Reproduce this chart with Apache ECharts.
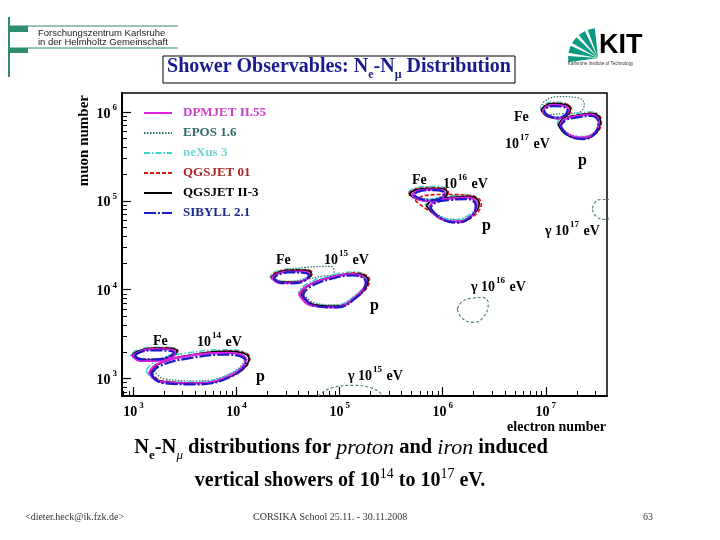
<!DOCTYPE html>
<html><head><meta charset="utf-8">
<script src="https://cdn.jsdelivr.net/npm/echarts@6/dist/echarts.min.js"></script>
<style>html,body{margin:0;padding:0;background:#fff}#c{width:720px;height:540px}</style>
</head><body><div id="c"></div>
<script>
// ---- data (log10 of electron number, log10 of muon number) ----
const modelNames = ['DPMJET II.55','EPOS 1.6','neXus 3','QGSJET 01','QGSJET II-3','SIBYLL 2.1'];
const xTickExps = [3,4,5,6,7];
const yTickExps = [3,4,5,6];
// contour groups per model: Fe14, p14, Fe15, p15, Fe16, p16, Fe17, p17
const dpmjet = [
 [[2.990,3.255],[3.070,3.200],[3.215,3.200],[3.345,3.230],[3.405,3.295],[3.325,3.330],[3.175,3.332],[3.050,3.300]],
 [[3.150,3.065],[3.250,2.965],[3.580,2.945],[3.950,3.040],[4.090,3.215],[3.910,3.290],[3.480,3.245],[3.225,3.160]],
 [[4.340,4.130],[4.430,4.075],[4.555,4.078],[4.665,4.110],[4.705,4.170],[4.635,4.205],[4.495,4.205],[4.390,4.175]],
 [[4.605,3.950],[4.720,3.822],[4.945,3.800],[5.160,3.925],[5.255,4.095],[5.130,4.175],[4.890,4.130],[4.680,4.040]],
 [[5.700,5.060],[5.780,5.010],[5.900,4.995],[5.990,5.030],[6.020,5.090],[5.960,5.125],[5.840,5.125],[5.740,5.105]],
 [[5.870,4.930],[5.975,4.800],[6.140,4.765],[6.280,4.830],[6.330,4.960],[6.250,5.035],[6.070,5.025],[5.920,4.990]],
 [[6.970,6.005],[7.030,5.950],[7.120,5.930],[7.190,5.965],[7.220,6.020],[7.170,6.070],[7.070,6.080],[7.005,6.060]],
 [[7.140,5.850],[7.215,5.750],[7.360,5.710],[7.480,5.770],[7.515,5.895],[7.440,5.970],[7.290,5.950],[7.185,5.920]]
];
const epos = [
 [[3.000,3.268],[3.075,3.220],[3.200,3.218],[3.320,3.248],[3.385,3.305],[3.310,3.335],[3.170,3.338],[3.055,3.310]],
 [[3.200,3.090],[3.300,2.995],[3.620,2.975],[3.960,3.070],[4.080,3.235],[3.900,3.300],[3.490,3.260],[3.270,3.180]],
 [[4.335,4.149],[4.471,4.093],[4.665,4.116],[4.811,4.149],[4.947,4.183],[4.917,4.262],[4.665,4.251],[4.422,4.206]],
 [[4.640,3.975],[4.750,3.855],[4.960,3.830],[5.170,3.950],[5.260,4.110],[5.140,4.180],[4.910,4.140],[4.710,4.060]],
 [[5.680,5.085],[5.770,5.035],[5.900,5.020],[6.000,5.050],[6.040,5.110],[5.975,5.150],[5.830,5.155],[5.725,5.130]],
 [[5.860,4.960],[5.960,4.840],[6.125,4.790],[6.280,4.850],[6.340,4.980],[6.255,5.055],[6.070,5.045],[5.905,5.015]],
 [[6.947,6.037],[7.024,5.970],[7.160,5.981],[7.316,5.993],[7.374,6.082],[7.306,6.161],[7.141,6.172],[6.995,6.127]],
 [[7.135,5.870],[7.210,5.765],[7.355,5.725],[7.480,5.785],[7.515,5.905],[7.440,5.975],[7.285,5.960],[7.180,5.930]]
];
const nexus = [
 [[2.970,3.270],[3.050,3.210],[3.200,3.205],[3.345,3.245],[3.420,3.318],[3.330,3.352],[3.170,3.350],[3.035,3.318]],
 [[3.120,3.090],[3.220,2.985],[3.570,2.960],[3.960,3.065],[4.110,3.250],[3.930,3.325],[3.480,3.280],[3.210,3.190]],
 [[4.320,4.150],[4.410,4.095],[4.545,4.092],[4.670,4.128],[4.725,4.195],[4.645,4.232],[4.495,4.232],[4.370,4.198]],
 [[4.600,3.975],[4.715,3.850],[4.940,3.825],[5.165,3.950],[5.265,4.120],[5.140,4.200],[4.895,4.155],[4.680,4.065]],
 [[5.665,5.090],[5.750,5.035],[5.890,5.015],[6.000,5.050],[6.045,5.115],[5.975,5.160],[5.825,5.160],[5.715,5.138]],
 [[5.830,4.965],[5.935,4.845],[6.110,4.790],[6.275,4.860],[6.345,4.990],[6.260,5.065],[6.065,5.055],[5.890,5.020]],
 [[6.950,6.030],[7.010,5.965],[7.105,5.945],[7.195,5.975],[7.235,6.045],[7.185,6.100],[7.070,6.110],[6.990,6.088]],
 [[7.110,5.875],[7.190,5.765],[7.345,5.720],[7.485,5.785],[7.525,5.920],[7.445,6.000],[7.280,5.978],[7.160,5.945]]
];
const qgsjet01 = [
 [[2.990,3.270],[3.070,3.215],[3.220,3.212],[3.365,3.245],[3.430,3.312],[3.345,3.345],[3.190,3.345],[3.055,3.312]],
 [[3.175,3.075],[3.270,2.975],[3.610,2.952],[4.000,3.055],[4.130,3.235],[3.950,3.310],[3.515,3.256],[3.250,3.168]],
 [[4.330,4.145],[4.425,4.090],[4.560,4.088],[4.690,4.122],[4.735,4.190],[4.655,4.224],[4.505,4.224],[4.380,4.190]],
 [[4.630,3.960],[4.745,3.838],[4.970,3.815],[5.195,3.940],[5.290,4.110],[5.165,4.188],[4.920,4.142],[4.705,4.052]],
 [[5.670,5.080],[5.760,5.025],[5.905,5.000],[6.015,5.035],[6.055,5.100],[5.985,5.145],[5.835,5.145],[5.720,5.125]],
 [[5.733,5.003],[5.898,4.868],[6.121,4.756],[6.296,4.824],[6.374,4.970],[6.267,5.060],[6.024,5.071],[5.830,5.060]],
 [[6.960,6.020],[7.020,5.955],[7.120,5.932],[7.210,5.965],[7.250,6.032],[7.195,6.088],[7.080,6.098],[7.000,6.076]],
 [[7.130,5.862],[7.210,5.750],[7.365,5.705],[7.500,5.772],[7.540,5.908],[7.460,5.986],[7.295,5.962],[7.178,5.930]]
];
const qgsjet2 = [
 [[2.985,3.262],[3.063,3.206],[3.209,3.206],[3.354,3.239],[3.422,3.307],[3.335,3.340],[3.180,3.340],[3.044,3.307]],
 [[3.160,3.071],[3.257,2.970],[3.597,2.948],[3.985,3.048],[4.121,3.228],[3.937,3.307],[3.500,3.251],[3.238,3.161]],
 [[4.335,4.138],[4.422,4.082],[4.549,4.082],[4.675,4.116],[4.723,4.183],[4.646,4.217],[4.500,4.217],[4.383,4.183]],
 [[4.617,3.958],[4.733,3.835],[4.956,3.812],[5.180,3.936],[5.277,4.104],[5.150,4.183],[4.908,4.138],[4.694,4.048]],
 [[5.675,5.071],[5.762,5.015],[5.898,4.992],[6.005,5.026],[6.044,5.093],[5.976,5.138],[5.830,5.138],[5.723,5.116]],
 [[5.840,4.947],[5.947,4.824],[6.121,4.767],[6.286,4.836],[6.354,4.970],[6.267,5.049],[6.073,5.037],[5.898,5.004]],
 [[6.956,6.015],[7.015,5.947],[7.112,5.925],[7.199,5.958],[7.238,6.026],[7.189,6.082],[7.073,6.093],[6.995,6.071]],
 [[7.121,5.857],[7.199,5.745],[7.354,5.700],[7.490,5.767],[7.529,5.902],[7.451,5.981],[7.286,5.958],[7.170,5.925]]
];
const sibyll = [
 [[3.010,3.255],[3.080,3.215],[3.210,3.215],[3.330,3.240],[3.390,3.290],[3.320,3.315],[3.190,3.318],[3.060,3.295]],
 [[3.170,3.050],[3.280,2.950],[3.610,2.935],[3.960,3.030],[4.090,3.190],[3.920,3.270],[3.520,3.225],[3.250,3.140]],
 [[4.360,4.125],[4.440,4.075],[4.555,4.072],[4.660,4.102],[4.700,4.160],[4.630,4.192],[4.500,4.195],[4.400,4.165]],
 [[4.640,3.940],[4.750,3.822],[4.960,3.800],[5.170,3.920],[5.255,4.080],[5.135,4.160],[4.905,4.118],[4.710,4.030]],
 [[5.720,5.065],[5.790,5.020],[5.900,5.005],[5.985,5.032],[6.015,5.085],[5.955,5.118],[5.840,5.120],[5.755,5.100]],
 [[5.880,4.920],[5.985,4.800],[6.140,4.755],[6.270,4.815],[6.320,4.945],[6.240,5.020],[6.075,5.010],[5.930,4.980]],
 [[6.985,6.000],[7.040,5.950],[7.125,5.935],[7.185,5.962],[7.210,6.012],[7.165,6.058],[7.075,6.066],[7.015,6.050]],
 [[7.145,5.840],[7.220,5.735],[7.360,5.695],[7.475,5.755],[7.510,5.880],[7.435,5.955],[7.290,5.935],[7.190,5.905]]
];
// photon-induced showers: 1e15, 1e16, 1e17 eV
const gammaContours = [
 [[4.791,2.801],[4.908,2.890],[5.131,2.924],[5.316,2.890],[5.403,2.813],[5.296,2.712],[5.053,2.690],[4.859,2.734]],
 [[6.141,3.779],[6.189,3.678],[6.296,3.633],[6.393,3.689],[6.442,3.846],[6.383,3.913],[6.267,3.902],[6.180,3.857]],
 [[7.451,4.902],[7.490,4.824],[7.568,4.790],[7.645,4.835],[7.675,4.947],[7.626,5.015],[7.529,5.015],[7.471,4.970]]
];

// ---- helpers ----
const serif = '"Liberation Serif","DejaVu Serif",serif';
const sans = '"Liberation Sans","DejaVu Sans",sans-serif';
const xMin = 2.888, xMax = 7.594, yMin = 2.804, yMax = 6.213;
function minorTicks(lo, hi){
  const out = [];
  for (let n = 1; n <= 8; n++) for (let k = 2; k <= 9; k++) {
    const v = n + Math.log10(k);
    if (v > lo && v < hi) out.push(v);
  }
  return out;
}
function toLine(contours){
  const d = [];
  contours.forEach(c => { c.forEach(p => d.push(p)); d.push(c[0]); d.push('-'); });
  return d;
}
const labelRich = {
  b: {fontFamily: serif, fontWeight: 'bold', fontSize: 14, lineHeight: 18, verticalAlign: 'bottom', color: '#000'},
  s: {fontFamily: serif, fontWeight: 'bold', fontSize: 9, lineHeight: 9, verticalAlign: 'top', color: '#000', padding: [0,0,0,2]}
};
function powLabel(v){ return '{b|10}{s|' + Math.round(v) + '}'; }

const styles = {
  'DPMJET II.55': {color: '#e020e0', width: 2.2, type: 'solid', text: '#cc3fcc'},
  'EPOS 1.6':     {color: '#2f6f6f', width: 1.2, type: [1.5, 1.5], text: '#2f6b6b'},
  'neXus 3':      {color: '#3fd0d0', width: 1.6, type: [6, 2, 1.5, 2], text: '#70d4d4'},
  'QGSJET 01':    {color: '#dd1111', width: 1.6, type: [4, 2], text: '#aa2626'},
  'QGSJET II-3':  {color: '#000000', width: 1.6, type: 'solid', text: '#000000'},
  'SIBYLL 2.1':   {color: '#1a1acc', width: 2.2, type: [12, 2, 2, 2], text: '#1c2a8c'}
};
const modelData = {
  'DPMJET II.55': dpmjet, 'EPOS 1.6': epos, 'neXus 3': nexus,
  'QGSJET 01': qgsjet01, 'QGSJET II-3': qgsjet2, 'SIBYLL 2.1': sibyll
};
const drawOrder = ['EPOS 1.6','neXus 3','QGSJET 01','QGSJET II-3','DPMJET II.55','SIBYLL 2.1'];

const series = drawOrder.map(name => ({
  name, type: 'line', symbol: 'none', smooth: 0.45, silent: true, clip: true,
  xAxisIndex: 0, yAxisIndex: 0,
  color: styles[name].color,
  lineStyle: {color: styles[name].color, width: styles[name].width, type: styles[name].type},
  data: toLine(modelData[name])
}));
series.push({
  name: 'gamma', type: 'line', symbol: 'none', smooth: 0.45, silent: true, clip: true,
  lineStyle: {color: '#5a8585', width: 1.2, type: [3, 2]},
  data: toLine(gammaContours)
});

// ---- text helpers for graphic ----
function rich(size){
  return {
    b: {fontFamily: serif, fontWeight: 'bold', fontSize: size, lineHeight: size + 4, verticalAlign: 'bottom', fill: '#000'},
    s: {fontFamily: serif, fontWeight: 'bold', fontSize: Math.round(size * 0.65), lineHeight: Math.round(size * 0.65), verticalAlign: 'top', fill: '#000', padding: [0,1,0,1]}
  };
}
function ann(x, y, text, size){
  return {type: 'text', x, y, silent: true, style: {text, rich: rich(size || 14), verticalAlign: 'middle', align: 'left', fill: '#000'}};
}
const green = '#2e8c70';
const kitGreen = '#0a9a82';
const fan = [];
[[96,110],[116,130],[136,150],[156,170],[176,188]].forEach(a => {
  const ox = 598, oy = 58, r = 30;
  const p1 = [ox + r*Math.cos(a[0]*Math.PI/180), oy - r*Math.sin(a[0]*Math.PI/180)];
  const p2 = [ox + r*Math.cos(a[1]*Math.PI/180), oy - r*Math.sin(a[1]*Math.PI/180)];
  fan.push({type: 'polygon', silent: true, shape: {points: [[ox, oy], p1, p2]}, style: {fill: kitGreen}});
});

const graphics = [
  {type: 'line', silent: true, shape: {x1: 9, y1: 17, x2: 9, y2: 77}, style: {stroke: green, lineWidth: 2}},
  {type: 'line', silent: true, shape: {x1: 9, y1: 26, x2: 178, y2: 26}, style: {stroke: green, lineWidth: 1}},
  {type: 'line', silent: true, shape: {x1: 9, y1: 48, x2: 178, y2: 48}, style: {stroke: green, lineWidth: 1}},
  {type: 'rect', silent: true, shape: {x: 9, y: 26, width: 19, height: 6}, style: {fill: green}},
  {type: 'rect', silent: true, shape: {x: 9, y: 48, width: 19, height: 5}, style: {fill: green}},
  {type: 'text', silent: true, x: 38, y: 33, style: {text: 'Forschungszentrum Karlsruhe', font: '9.5px ' + sans, fill: '#222', verticalAlign: 'middle'}},
  {type: 'text', silent: true, x: 38, y: 42, style: {text: 'in der Helmholtz Gemeinschaft', font: '9.5px ' + sans, fill: '#222', verticalAlign: 'middle'}},
  ...fan,
  {type: 'text', silent: true, x: 599, y: 46, style: {text: 'KIT', font: 'bold 27px ' + sans, fill: '#000', verticalAlign: 'middle'}},
  {type: 'text', silent: true, x: 568, y: 64, style: {text: 'Karlsruhe Institute of Technology', font: '4.5px ' + sans, fill: '#333', verticalAlign: 'middle'}},
  {type: 'rect', silent: true, shape: {x: 163, y: 56, width: 352, height: 27}, style: {fill: 'none', stroke: '#000', lineWidth: 1}},
  {type: 'text', silent: true, x: 339, y: 69, style: {
    text: '{t|Shower Observables: N}{u|e}{t|-N}{u|μ}{t| Distribution}', align: 'center', verticalAlign: 'middle',
    rich: {
      t: {fontFamily: serif, fontWeight: 'bold', fontSize: 20, lineHeight: 24, verticalAlign: 'top', fill: '#1b1b90'},
      u: {fontFamily: serif, fontWeight: 'bold', fontSize: 12, lineHeight: 14, verticalAlign: 'bottom', fill: '#1b1b90'}
    }}},
  // in-plot annotations
  ann(153, 339, '{b|Fe}'),
  ann(197, 340, '{b|10}{s|14}{b| eV}'),
  ann(256, 375, '{b|p}', 16),
  ann(276, 258, '{b|Fe}'),
  ann(324, 258, '{b|10}{s|15}{b| eV}'),
  ann(370, 304, '{b|p}', 16),
  ann(412, 178, '{b|Fe}'),
  ann(443, 182, '{b|10}{s|16}{b| eV}'),
  ann(482, 224, '{b|p}', 16),
  ann(514, 115, '{b|Fe}'),
  ann(505, 142, '{b|10}{s|17}{b| eV}'),
  ann(578, 159, '{b|p}', 16),
  ann(545, 229, '{b|γ 10}{s|17}{b| eV}'),
  ann(471, 285, '{b|γ 10}{s|16}{b| eV}'),
  ann(348, 374, '{b|γ 10}{s|15}{b| eV}'),
  // axis titles
  {type: 'text', silent: true, x: 84, y: 95, rotation: Math.PI/2, style: {text: 'muon number', font: 'bold 15px ' + serif, fill: '#000', align: 'right', verticalAlign: 'middle'}},
  {type: 'text', silent: true, x: 606, y: 427, style: {text: 'electron number', font: 'bold 14px ' + serif, fill: '#000', align: 'right', verticalAlign: 'middle'}},
  // caption
  {type: 'text', silent: true, x: 341, y: 450, style: {
    text: '{b|N}{u|e}{b|-N}{v|μ}{b| distributions for }{i|proton}{b| and }{i|iron}{b| induced}', align: 'center', verticalAlign: 'middle',
    rich: {
      b: {fontFamily: serif, fontWeight: 'bold', fontSize: 20.5, lineHeight: 25, verticalAlign: 'top', fill: '#000'},
      u: {fontFamily: serif, fontWeight: 'bold', fontSize: 13, lineHeight: 14, verticalAlign: 'bottom', fill: '#000'},
      v: {fontFamily: serif, fontStyle: 'italic', fontSize: 13, lineHeight: 14, verticalAlign: 'bottom', fill: '#000'},
      i: {fontFamily: serif, fontStyle: 'italic', fontSize: 22, lineHeight: 25, verticalAlign: 'top', fill: '#000'}
    }}},
  {type: 'text', silent: true, x: 340, y: 479, style: {
    text: '{b|vertical showers of 10}{s|14}{b| to 10}{s|17}{b| eV.}', align: 'center', verticalAlign: 'middle',
    rich: {
      b: {fontFamily: serif, fontWeight: 'bold', fontSize: 20, lineHeight: 24, verticalAlign: 'bottom', fill: '#000'},
      s: {fontFamily: serif, fontSize: 14, lineHeight: 14, verticalAlign: 'top', fill: '#000'}
    }}},
  // footer
  {type: 'text', silent: true, x: 25, y: 517, style: {text: '<dieter.heck@ik.fzk.de>', font: '10px ' + serif, fill: '#333', verticalAlign: 'middle'}},
  {type: 'text', silent: true, x: 253, y: 517, style: {text: 'CORSIKA School 25.11. - 30.11.2008', font: '10px ' + serif, fill: '#333', verticalAlign: 'middle'}},
  {type: 'text', silent: true, x: 643, y: 517, style: {text: '63', font: '10px ' + serif, fill: '#333', verticalAlign: 'middle'}}
];

const option = {
  animation: false,
  backgroundColor: '#fff',
  grid: {left: 122, top: 93, width: 485, height: 303, show: true, borderColor: '#000', borderWidth: 1.5, containLabel: false, outerBoundsMode: 'none'},
  legend: {
    orient: 'vertical', left: 143, top: 106, itemWidth: 28, itemHeight: 14, itemGap: 6, padding: 0,
    selectedMode: false,
    itemStyle: {opacity: 0},
    textStyle: {fontFamily: serif, fontWeight: 'bold', fontSize: 13, lineHeight: 14, padding: [0,0,0,6]},
    data: modelNames.map(n => ({name: n, textStyle: {color: styles[n].text}}))
  },
  xAxis: [
    {type: 'value', min: xMin, max: xMax, position: 'bottom', splitLine: {show: false},
     axisLine: {show: true, onZero: false, lineStyle: {color: '#000', width: 2}},
     axisTick: {show: true, inside: true, length: 9, customValues: xTickExps, lineStyle: {color: '#000', width: 1.2}},
     axisLabel: {show: true, customValues: xTickExps, formatter: powLabel, rich: labelRich, margin: 5}},
    {type: 'value', min: xMin, max: xMax, position: 'bottom', splitLine: {show: false},
     axisLine: {show: false},
     axisTick: {show: true, inside: true, length: 5, customValues: minorTicks(xMin, xMax), lineStyle: {color: '#000', width: 1}},
     axisLabel: {show: false}}
  ],
  yAxis: [
    {type: 'value', min: yMin, max: yMax, position: 'left', splitLine: {show: false},
     axisLine: {show: true, onZero: false, lineStyle: {color: '#000', width: 2}},
     axisTick: {show: true, inside: true, length: 9, customValues: yTickExps, lineStyle: {color: '#000', width: 1.2}},
     axisLabel: {show: true, customValues: yTickExps, formatter: powLabel, rich: labelRich, margin: 5}},
    {type: 'value', min: yMin, max: yMax, position: 'left', splitLine: {show: false},
     axisLine: {show: false},
     axisTick: {show: true, inside: true, length: 5, customValues: minorTicks(yMin, yMax), lineStyle: {color: '#000', width: 1}},
     axisLabel: {show: false}}
  ],
  graphic: graphics,
  series
};
const chart = echarts.init(document.getElementById('c'));
chart.setOption(option);
</script>
</body></html>
